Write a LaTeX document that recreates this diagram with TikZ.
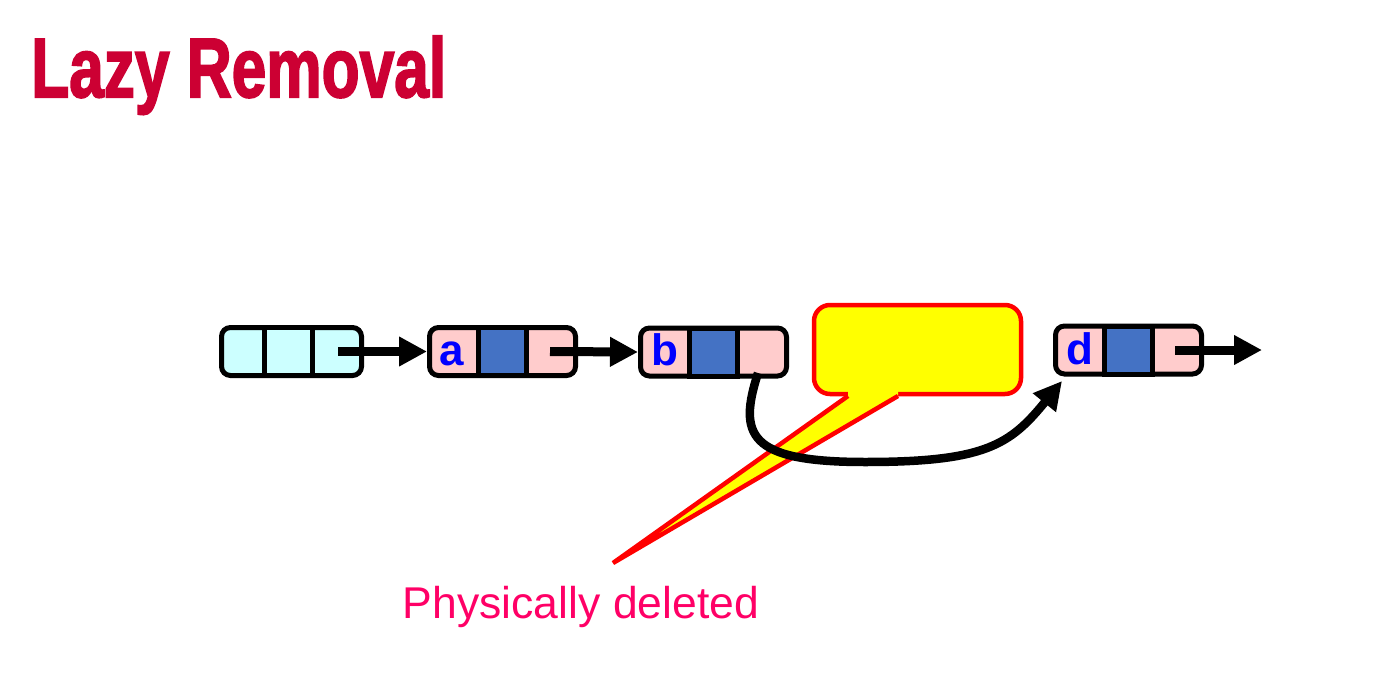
\documentclass[tikz,border=0pt]{standalone}
\usepackage{fontspec}
\setmainfont{Liberation Sans}
\newfontface\titlefont{Liberation Sans Bold}[FakeBold=2.5]
\usepackage{graphicx}
\usetikzlibrary{arrows.meta,positioning}
\definecolor{titlered}{RGB}{204,0,51}
\definecolor{labelpink}{RGB}{255,0,102}
\definecolor{cellpink}{RGB}{255,204,204}
\definecolor{cellcyan}{RGB}{204,255,255}
\definecolor{cellblue}{RGB}{68,114,196}
\definecolor{keyblue}{RGB}{0,0,255}
\definecolor{noteyellow}{RGB}{255,255,0}
\definecolor{notered}{RGB}{255,0,0}
\tikzset{
  listbox/.style={draw,line width=5pt,rounded corners=9pt,inner sep=0pt,
    minimum width=146pt,minimum height=48pt},
  midcell/.style={draw,line width=5pt,inner sep=0pt,
    minimum width=48pt,minimum height=48pt},
  key/.style={text=keyblue,font=\fontsize{44}{44}\selectfont\bfseries,inner sep=0pt,anchor=base},
  next/.style={line width=9pt,-{Triangle[length=28pt,width=28pt]}},
  notebox/.style={fill=noteyellow,draw=notered,line width=4.5pt,rounded corners=16pt,
    minimum width=207pt,minimum height=89pt,inner sep=0pt},
}
\begin{document}
\begin{tikzpicture}[x=1pt,y=-1pt]
\useasboundingbox (0,0) rectangle (1397,696);
% title
\node[anchor=base west,inner sep=0pt,text=titlered] (title) at (31,97)
  {\resizebox{415pt}{61pt}{\titlefont Lazy Removal}};
% list nodes
\node[listbox,fill=cellcyan,minimum width=140pt] (head) at (291.5,351.5) {};
\node[midcell,fill=cellcyan] (head-2) at (288,351.5) {};
\node[listbox,fill=cellpink] (a) at (502.5,351.5) {};
\node[midcell,fill=cellblue] (a-2) at (a.center) {};
\node[listbox,fill=cellpink] (b) at (713.5,352) {};
\node[midcell,fill=cellblue] (b-2) at (b.center) {};
\node[listbox,fill=cellpink] (d) at (1128.5,350) {};
\node[midcell,fill=cellblue] (d-2) at (d.center) {};
\node[key] (a-key) at ([xshift=25pt,yshift=-14pt]a.west) {a};
\node[key] (b-key) at ([xshift=27pt,yshift=-13pt]b.west) {b};
\node[key] (d-key) at ([xshift=27pt,yshift=-14pt]d.west) {d};
% pointers
\coordinate (head-3) at ([xshift=-26pt]head.east);
\coordinate (a-3) at ([xshift=-28pt]a.east);
\coordinate (b-3) at (758,373);
\coordinate (d-3) at ([xshift=-29pt]d.east);
\coordinate (tail) at (1262,350);
\draw[next] (head-3) -- (a.west);
\draw[next] (a-3) -- (b.west);
\draw[next] (d-3) -- (tail);
% callout
\node[notebox] (note) at (917.5,349.5) {};
\coordinate (tip) at (613,563);
\fill[noteyellow] (848,386) -- (848,396) -- (tip) -- (898,396) -- (898,386) -- cycle;
\draw[notered,line width=4.5pt,line join=miter] (848,396) -- (tip) -- (898,396);
\node[text=labelpink,font=\fontsize{44.5}{44.5}\selectfont,inner sep=0pt,anchor=base]
  (deleted) at (581,618) {Physically deleted};
% physical removal
\draw[line width=8.5pt,-{Triangle[length=28pt,width=28pt]}] (b-3)
  .. controls (738,435) and (748,462) .. (865,462)
  .. controls (985,462) and (1010,445) .. (1062,381);
\end{tikzpicture}
\end{document}
